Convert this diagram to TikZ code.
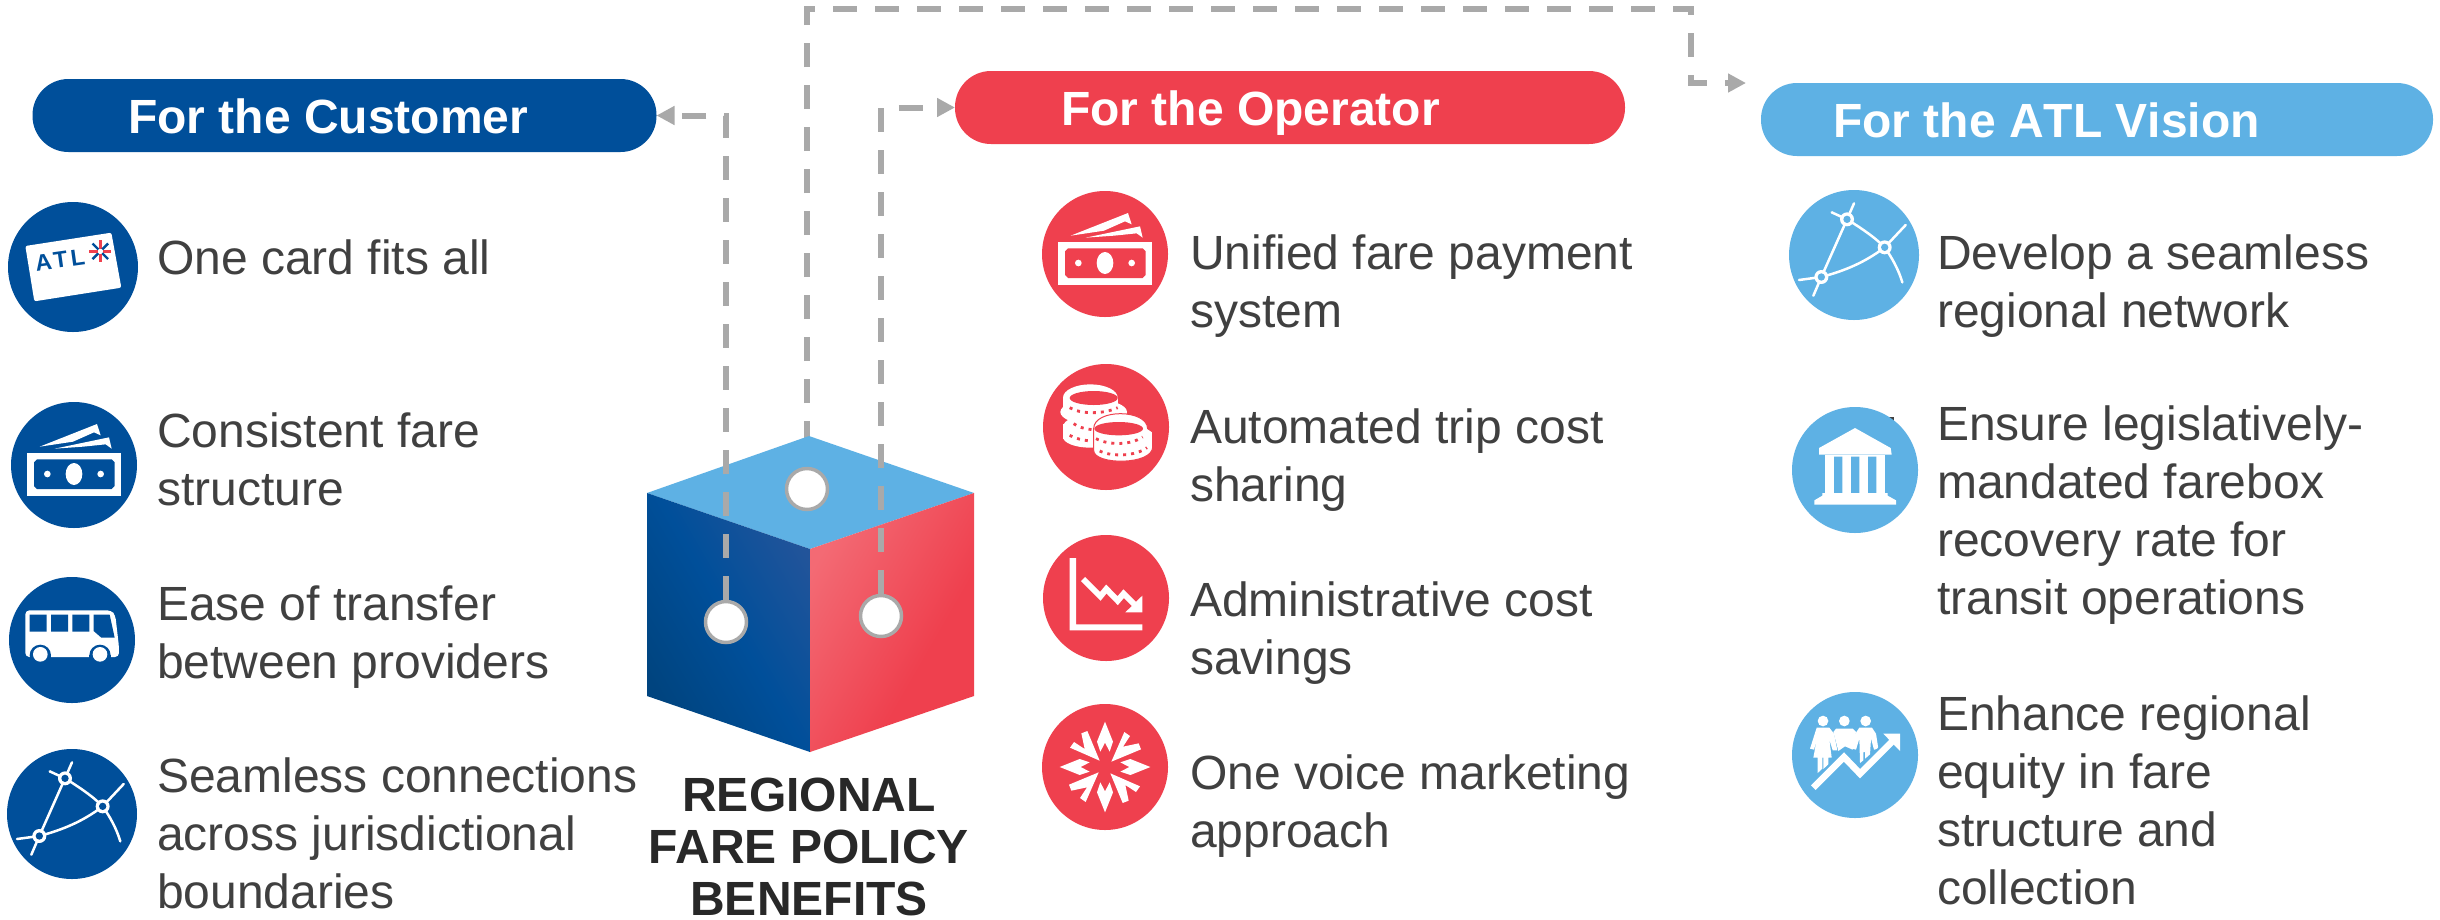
\documentclass[tikz,border=0pt]{standalone}
\usepackage{fontspec}
\setmainfont{Liberation Sans}
\usetikzlibrary{arrows.meta}
\definecolor{cblue}{HTML}{004F9A}
\definecolor{cred}{HTML}{EF404E}
\definecolor{csky}{HTML}{5EB1E4}
\definecolor{cgray}{HTML}{A9A9A9}
\definecolor{ctext}{HTML}{404040}
\definecolor{ctitle}{HTML}{282828}
\definecolor{cubeA}{HTML}{00447F}
\definecolor{cubeB}{HTML}{22549A}
\definecolor{cubeC}{HTML}{F36A74}
\pgfdeclarehorizontalshading{blueface}{100bp}{color(0bp)=(cubeA); color(30bp)=(cubeA); color(50bp)=(cblue); color(70bp)=(cubeB); color(100bp)=(cubeB)}
\pgfdeclarehorizontalshading{redface}{100bp}{color(0bp)=(cubeC); color(28bp)=(cubeC); color(60bp)=(cred); color(100bp)=(cred)}
\tikzset{
  pill/.style={rectangle,rounded corners=36pt,minimum height=73pt,inner sep=0pt,outer sep=0pt},
  pilltext/.style={anchor=base west,inner sep=0pt,text=white,font=\fontsize{48}{58}\selectfont\bfseries},
  bodytext/.style={anchor=base west,inner sep=0pt,align=left,text=ctext,font=\fontsize{48}{58}\selectfont},
  cubetitle/.style={anchor=base,inner sep=0pt,align=center,text=ctitle,font=\fontsize{48}{52}\selectfont\bfseries},
  dashline/.style={draw=cgray,line width=6pt,dash pattern=on 24pt off 18pt},
  gtip/.style={-{Triangle[length=18pt,width=18pt,fill=cgray,color=cgray]}},
  dot/.style={circle,draw=cgray,fill=white,line width=3.5pt,minimum size=41pt,inner sep=0pt},
  badge/.style={circle,inner sep=0pt,outer sep=0pt,minimum size=#1},
  wln/.style={draw=white,line width=2.5pt,line cap=round},
}
\newcommand{\moneyicon}[3]{%
  \begin{scope}[shift={(#1,#2)},scale=.3333,shift={(-223,-855)}]
    \fill[white] (82,818) rectangle (365,947);
    \fill[#3] (112,838) -- (336,838) -- (345,847) -- (345,918) -- (336,927) -- (112,927) -- (103,918) -- (103,847) -- cycle;
    \fill[white] (223,882) ellipse [x radius=25,y radius=33];
    \fill[white] (143,882) circle (10) (303,882) circle (10);
    \fill[white] (120,800) -- (292,732) -- (303,766) -- (283,757) -- (220,785) -- cycle;
    \fill[white] (165,806) -- (328,772) -- (336,806) -- (318,793) -- (250,800) -- cycle;
  \end{scope}}
\newcommand{\neticon}[3]{%
  \begin{scope}[shift={(#1,#2)},scale=.3333,shift={(-217,-823)}]
    \draw[wln] (196,716) -- (119,889);
    \draw[wln] (196,716) .. controls (235,740) and (280,770) .. (309,800);
    \draw[wln] (119,889) .. controls (190,870) and (250,845) .. (309,800);
    \draw[wln] (150,695) -- (196,716) -- (217,668);
    \draw[wln] (309,800) -- (372,733);
    \draw[wln] (309,800) .. controls (330,830) and (350,865) .. (362,905);
    \draw[wln] (52,898) -- (119,889) -- (95,945);
    \foreach \p in {(196,716),(309,800),(119,889)}{
      \fill[white] \p circle (21);
      \fill[#3] \p circle (11);
    }
  \end{scope}}
\begin{document}
\begin{tikzpicture}[x=1pt,y=-1pt]
\useasboundingbox (0,0) rectangle (2440,919);
\fill[white] (0,0) rectangle (2440,919);

% pills
\node[pill,fill=cblue,minimum width=624pt] (custpill) at (344.5,115.5) {};
\node[pill,fill=cred,minimum width=670pt] (oppill) at (1290,107.5) {};
\node[pill,fill=csky,minimum width=672pt] (vispill) at (2097,119.5) {};
\node[pilltext] (custlab) at (128,133.5) {For the Customer};
\node[pilltext] (oplab) at (1061,125) {For the Operator};
\node[pilltext] (vislab) at (1833,137) {\addfontfeature{Kerning=Off}For the ATL Vision};

% connector behind the cube
\node[dot,draw=none,fill=none] (topdot0) at (807,489) {};
\coordinate (topL) at (807,9);
\coordinate (topR) at (1691,9);
\coordinate (visin) at (1746,83);
\draw[dashline,gtip,dash phase=40pt] (topdot0.center) -- (topL) -- (topR) |- (visin);

% cube
\fill[csky] (809,436) -- (974,493) -- (810,549) -- (647,493) -- cycle;
\begin{scope}
  \clip (647,493) -- (810,549) -- (810,752) -- (647,696) -- cycle;
  \shade[shading=blueface,shading angle=30] (620,470) rectangle (840,770);
\end{scope}
\begin{scope}
  \clip (810,549) -- (974,493) -- (974,696) -- (810,752) -- cycle;
  \shade[shading=redface,shading angle=-30] (800,480) rectangle (985,770);
\end{scope}

% dots and connectors over the cube
\node[dot] (topdot) at (807,489) {};
\node[dot] (custdot) at (726,622) {};
\node[dot] (opdot) at (881,616) {};
\draw[dashline,gtip] (custdot.north) |- (custpill.east);
\draw[dashline,gtip] (opdot.north) |- (oppill.west);

% cube caption
\node[cubetitle] (title) at (809,915.5) {REGIONAL\\FARE POLICY\\BENEFITS};

% body text
\node[bodytext] (t1) at (157,274) {One card fits all};
\node[bodytext] (t2) at (157,505) {Consistent fare\\structure};
\node[bodytext] (t3) at (157,678) {Ease of transfer\\between providers};
\node[bodytext] (t4) at (157,908) {Seamless connections\\across jurisdictional\\boundaries};
\node[bodytext] (m1) at (1190,327.5) {Unified fare payment\\system};
\node[bodytext] (m2) at (1190,501) {Automated trip cost\\sharing};
\node[bodytext] (m3) at (1190,674) {Administrative cost\\savings};
\node[bodytext] (m4) at (1190,847) {One voice marketing\\approach};
\node[bodytext] (r1) at (1937,327.5) {Develop a seamless\\regional network};
\node[bodytext] (r2) at (1937,614.5) {Ensure legislatively-\\mandated farebox\\recovery rate for\\transit operations};
\node[bodytext] (r3) at (1937,904) {Enhance regional\\equity in fare\\structure and\\collection};

% badges
\node[badge=130pt,fill=cblue] (b1) at (73,267) {};
\node[badge=126pt,fill=cblue] (b2) at (74,465) {};
\node[badge=126pt,fill=cblue] (b3) at (72,640) {};
\node[badge=130pt,fill=cblue] (b4) at (72,814) {};
\node[badge=126pt,fill=cred] (c1) at (1105,254) {};
\node[badge=126pt,fill=cred] (c2) at (1106,427) {};
\node[badge=126pt,fill=cred] (c3) at (1106,598) {};
\node[badge=126pt,fill=cred] (c4) at (1105,767) {};
\fill[ctext] (1889,417) rectangle (1894,421);
\node[badge=130pt,fill=csky] (d1) at (1854,255) {};
\node[badge=126pt,fill=csky] (d2) at (1855,470) {};
\node[badge=126pt,fill=csky] (d3) at (1855,755) {};

% card icon
\begin{scope}[shift={(73,267)},scale=.3333,shift={(-218,-260)}]
  \fill[white,rounded corners=2pt] (75,197) -- (333,157) -- (363,322) -- (102,363) -- cycle;
  \foreach \a/\cc in {0/cred,45/cblue,90/cred,135/cblue,180/cred,225/cblue,270/cred,315/cblue}{
    \draw[\cc,line width=2.4pt] (300,213) ++(\a:8) -- ++(\a:25);
  }
\end{scope}
\node[inner sep=0pt,rotate=8,text=cblue,font=\fontsize{23}{23}\selectfont\bfseries] (atl) at (60,260) {\addfontfeature{LetterSpace=15}ATL};

\moneyicon{74}{465}{cblue}
\moneyicon{1105}{254}{cred}
\neticon{72}{814}{cblue}
\neticon{1854}{255}{csky}

% bus icon
\begin{scope}[shift={(72,640)},scale=.3333,shift={(-217,-299)}]
  \fill[white,rounded corners=4pt] (77,350) -- (77,210) -- (335,210) -- (347,225) -- (358,320) -- (358,350) -- cycle;
  \fill[cblue] (90,223) rectangle (141,274) (154,223) rectangle (205,274) (218,223) rectangle (269,274);
  \fill[cblue] (282,223) -- (330,223) -- (345,292) -- (305,292) -- (282,272) -- cycle;
  \foreach \w in {122,301}{
    \fill[cblue] (\w,345) circle (32);
    \fill[cblue] (\w-32,345) rectangle (\w+32,380);
    \fill[white] (\w,342) circle (22);
  }
\end{scope}

% coins icon
\begin{scope}[shift={(1106,427)},scale=.3333,shift={(-227,-770)}]
  \fill[white] (180,682) ellipse [x radius=82,y radius=40];
  \fill[white] (98,682) rectangle (262,725);
  \fill[white] (98,760) rectangle (290,805);
  \fill[white] (190,725) ellipse [x radius=100,y radius=38];
  \fill[white] (195,770) ellipse [x radius=97,y radius=40];
  \fill[white] (180,800) ellipse [x radius=82,y radius=32];
  \fill[cred] (190,683) ellipse [x radius=72,y radius=21];
  \draw[cred,line width=2.8pt,dash pattern=on 3pt off 5pt] (118,712) .. controls (150,732) and (220,732) .. (262,712);
  \draw[cred,line width=2.8pt,dash pattern=on 3pt off 5pt] (130,760) .. controls (145,772) and (165,775) .. (185,778);
  \draw[cred,line width=2.8pt,dash pattern=on 3pt off 5pt] (118,795) .. controls (135,805) and (160,810) .. (180,812);
  \path[draw=cred,line width=1pt,fill=white] (190,775) -- (190,840) .. controls (190,885) and (367,885) .. (367,830) -- (367,785) -- (352,775) .. controls (350,715) and (190,715) .. (190,775) -- cycle;
  \fill[cred] (265,775) ellipse [x radius=73,y radius=20];
  \draw[cred,line width=2.8pt,dash pattern=on 3pt off 5pt] (197,805) .. controls (235,825) and (300,825) .. (337,800);
  \draw[cred,line width=2.8pt,dash pattern=on 3pt off 5pt] (208,842) .. controls (245,860) and (315,858) .. (350,832);
\end{scope}

% chart icon
\begin{scope}[shift={(1106,598)},scale=.3333,shift={(-227,-235)}]
  \fill[white] (118,115) rectangle (137,314) (118,314) rectangle (336,332);
  \draw[white,line width=6pt,line join=miter] (158,178) -- (210,230) -- (228,208) -- (262,243) -- (280,222) -- (320,262);
  \fill[white] (336,228) -- (336,278) -- (285,278) -- cycle;
\end{scope}

% burst icon
\begin{scope}[shift={(1105,767)},scale=.3333]
  \foreach \r in {0,90,180,270}{
    \begin{scope}[rotate=\r]
      \fill[white] (0,-136) -- (24,-76) -- (14,-46) -- (0,-73) -- (-14,-46) -- (-24,-76) -- cycle;
      \fill[white] (19,-16) -- (58,-105) -- (75,-93) -- (54,-61) -- (101,-71) -- (108,-53) -- cycle;
    \end{scope}
  }
\end{scope}

% bank icon
\begin{scope}[shift={(1855,470)},scale=.3333,shift={(-255,-871)}]
  \fill[white] (255,745) -- (362,805) -- (365,825) -- (147,825) -- (147,805) -- cycle;
  \fill[white] (165,825) rectangle (345,940);
  \fill[csky] (192,831) rectangle (217,940) (243,831) rectangle (268,940) (294,831) rectangle (319,940);
  \fill[white] (157,940) -- (353,940) -- (353,948) -- (378,962) -- (378,975) -- (133,975) -- (133,962) -- (157,948) -- cycle;
\end{scope}

% equity icon
\begin{scope}[shift={(1855,755)},scale=.3333,shift={(-255,-224)}]
  \fill[white] (159,122) circle (16) (223,122) circle (16) (287,122) circle (16);
  \fill[white] (140,142) -- (178,142) -- (192,160) -- (202,210) -- (188,210) -- (178,178) -- (185,232) -- (175,232) -- (175,252) -- (160,266) -- (160,232) -- (157,232) -- (157,265) -- (143,278) -- (143,232) -- (130,232) -- (140,178) -- (132,208) -- (120,205) -- cycle;
  \fill[white] (198,145) -- (248,145) -- (258,155) -- (248,208) -- (225,198) -- (205,212) -- (190,155) -- cycle;
  \fill[white] (268,142) -- (306,142) -- (318,160) -- (325,205) -- (312,208) -- (303,175) -- (300,222) -- (285,235) -- (285,215) -- (280,215) -- (280,240) -- (270,248) -- (268,175) -- (258,208) -- (246,205) -- (256,160) -- cycle;
  \draw[csky,line width=11pt,line join=miter] (130,322) -- (222,230) -- (270,280) -- (365,185);
  \draw[white,line width=6.6pt,line join=miter] (130,322) -- (222,230) -- (270,280) -- (365,185);
  \fill[white] (340,160) -- (390,160) -- (390,212) -- cycle;
\end{scope}
\end{tikzpicture}
\end{document}
